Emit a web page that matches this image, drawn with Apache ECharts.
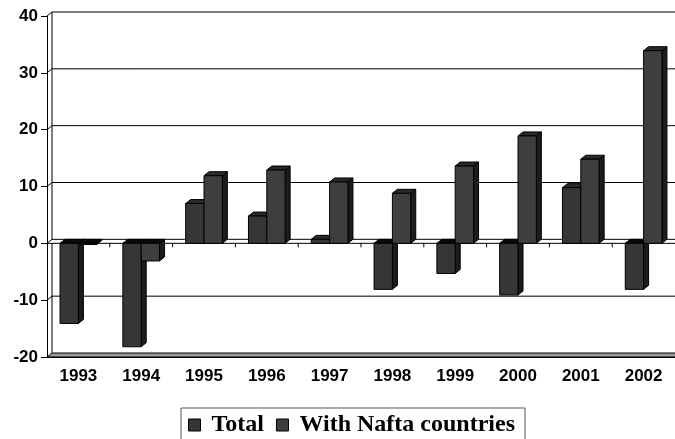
<!DOCTYPE html>
<html>
<head>
<meta charset="utf-8">
<script src="https://cdn.jsdelivr.net/npm/echarts@6/dist/echarts.min.js"></script>
<style>
  html, body { margin: 0; padding: 0; background: #fff; }
  #chart { width: 675px; height: 439px; }
</style>
</head>
<body>
<div id="chart"></div>
<script>
// Yearly change, Total vs. trade with Nafta countries
const categories = ['1993', '1994', '1995', '1996', '1997', '1998', '1999', '2000', '2001', '2002'];
const totalValues = [-14.1, -18.2, 7.0, 4.8, 0.7, -8.1, -5.3, -9.1, 9.8, -8.1];
const naftaValues = [-0.2, -3.1, 11.9, 12.9, 10.8, 8.8, 13.6, 18.9, 14.8, 33.9];
const yTicks = [-20, -10, 0, 10, 20, 30, 40];
const seriesNames = ['Total', 'With Nafta countries'];

// depth offset of the pseudo-3D box (pixels)
const DX = 5, DY = -4;

const chart = echarts.init(document.getElementById('chart'));

// back wall, side wall, gridlines, floor and the zero plane
function wallItem(params, api) {
  const cs = params.coordSys;
  const v = api.value(1);
  const y = api.coord([0, v])[1];
  const xl = cs.x, xr = cs.x + cs.width;
  const children = [];
  const line = (x1, y1, x2, y2, color) => ({
    type: 'line',
    shape: { x1, y1, x2, y2 },
    style: { stroke: color || '#000', lineWidth: 1 }
  });
  if (v === yTicks[0]) {
    // floor
    children.push({
      type: 'polygon',
      shape: { points: [[xl, y], [xr, y], [xr + DX, y + DY], [xl + DX, y + DY]] },
      style: { fill: '#9a9a9a', stroke: '#000', lineWidth: 1 }
    });
    // back edge of the side wall
    const yt = api.coord([0, yTicks[yTicks.length - 1]])[1];
    children.push(line(xl + DX, yt + DY, xl + DX, y + DY));
  } else if (v === 0) {
    // plane at zero with ticks under its front edge
    children.push({
      type: 'polygon',
      shape: { points: [[xl, y], [xr, y], [xr + DX, y + DY], [xl + DX, y + DY]] },
      style: { fill: '#fff', stroke: '#000', lineWidth: 1 }
    });
    const band = api.size([1, 0])[0];
    for (let k = 1; k < categories.length; k++) {
      const xt = xl + k * band;
      children.push(line(xt, y, xt, y + 4));
    }
  } else {
    children.push(line(xl, y, xl + DX, y + DY));
    children.push(line(xl + DX, y + DY, xr + DX, y + DY));
  }
  return { type: 'group', children };
}

function barRenderer(slot) {
  return function (params, api) {
    const i = api.value(0), v = api.value(1);
    const band = api.size([1, 0])[0];
    const w = band * 0.292;
    const base = api.coord([i, 0]);
    const tip = api.coord([i, v]);
    const x0 = base[0] - w + slot * w;
    const x1 = x0 + w;
    const yTop = Math.min(base[1], tip[1]);
    const yBot = Math.max(base[1], tip[1]);
    const neg = v < 0;
    const front = api.visual('color');
    const stroke = { stroke: '#000', lineWidth: 1, lineJoin: 'miter' };
    return {
      type: 'group',
      children: [
        {
          type: 'polygon',
          shape: { points: [[x1, yTop], [x1 + DX, yTop + DY], [x1 + DX, yBot + DY], [x1, yBot]] },
          style: Object.assign({ fill: '#1c1c1c' }, stroke)
        },
        {
          type: 'polygon',
          shape: { points: [[x0, yTop], [x1, yTop], [x1 + DX, yTop + DY], [x0 + DX, yTop + DY]] },
          style: Object.assign({ fill: neg ? '#0a0a0a' : '#2a2a2a' }, stroke)
        },
        {
          type: 'rect',
          shape: { x: x0, y: yTop, width: w, height: yBot - yTop },
          style: Object.assign({ fill: front }, stroke)
        }
      ]
    };
  };
}

const axisFont = { fontFamily: 'Liberation Sans, Arial, sans-serif', fontWeight: 'bold', color: '#000' };

chart.setOption({
  animation: false,
  backgroundColor: '#fff',
  grid: { left: 47, top: 16, width: 633, height: 341 },
  legend: {
    data: seriesNames,
    left: 181,
    top: 408,
    padding: [5, 10, 10, 7],
    itemGap: 12,
    itemWidth: 12,
    itemHeight: 12,
    icon: 'rect',
    borderColor: '#555',
    borderWidth: 1,
    itemStyle: { borderColor: '#000', borderWidth: 1 },
    formatter: name => ' ' + name,
    textStyle: { fontFamily: 'Liberation Serif, Times New Roman, serif', fontWeight: 'bold', fontSize: 24, color: '#000' }
  },
  xAxis: {
    type: 'category',
    data: categories,
    boundaryGap: true,
    axisLine: { onZero: false, lineStyle: { color: '#000', width: 1 } },
    axisTick: { alignWithLabel: false, length: 4, lineStyle: { color: '#000' } },
    axisLabel: Object.assign({ fontSize: 17, margin: 11 }, axisFont),
    splitLine: { show: false }
  },
  yAxis: {
    type: 'value',
    min: -20,
    max: 40,
    interval: 10,
    axisLine: { show: true, lineStyle: { color: '#000', width: 1 } },
    axisTick: { show: true, length: 6, lineStyle: { color: '#000' } },
    axisLabel: Object.assign({ fontSize: 17, margin: 9 }, axisFont),
    splitLine: { show: false }
  },
  series: [
    {
      name: 'walls',
      type: 'custom',
      renderItem: wallItem,
      data: yTicks.map(v => [0, v]),
      encode: { x: 0, y: 1 },
      silent: true,
      z: 1
    },
    {
      name: seriesNames[0],
      type: 'custom',
      renderItem: barRenderer(0),
      itemStyle: { color: '#363636' },
      data: totalValues.map((v, i) => [i, v]),
      encode: { x: 0, y: 1 },
      z: 2
    },
    {
      name: seriesNames[1],
      type: 'custom',
      renderItem: barRenderer(1),
      itemStyle: { color: '#3e3e3e' },
      data: naftaValues.map((v, i) => [i, v]),
      encode: { x: 0, y: 1 },
      z: 3
    }
  ]
});
</script>
</body>
</html>
